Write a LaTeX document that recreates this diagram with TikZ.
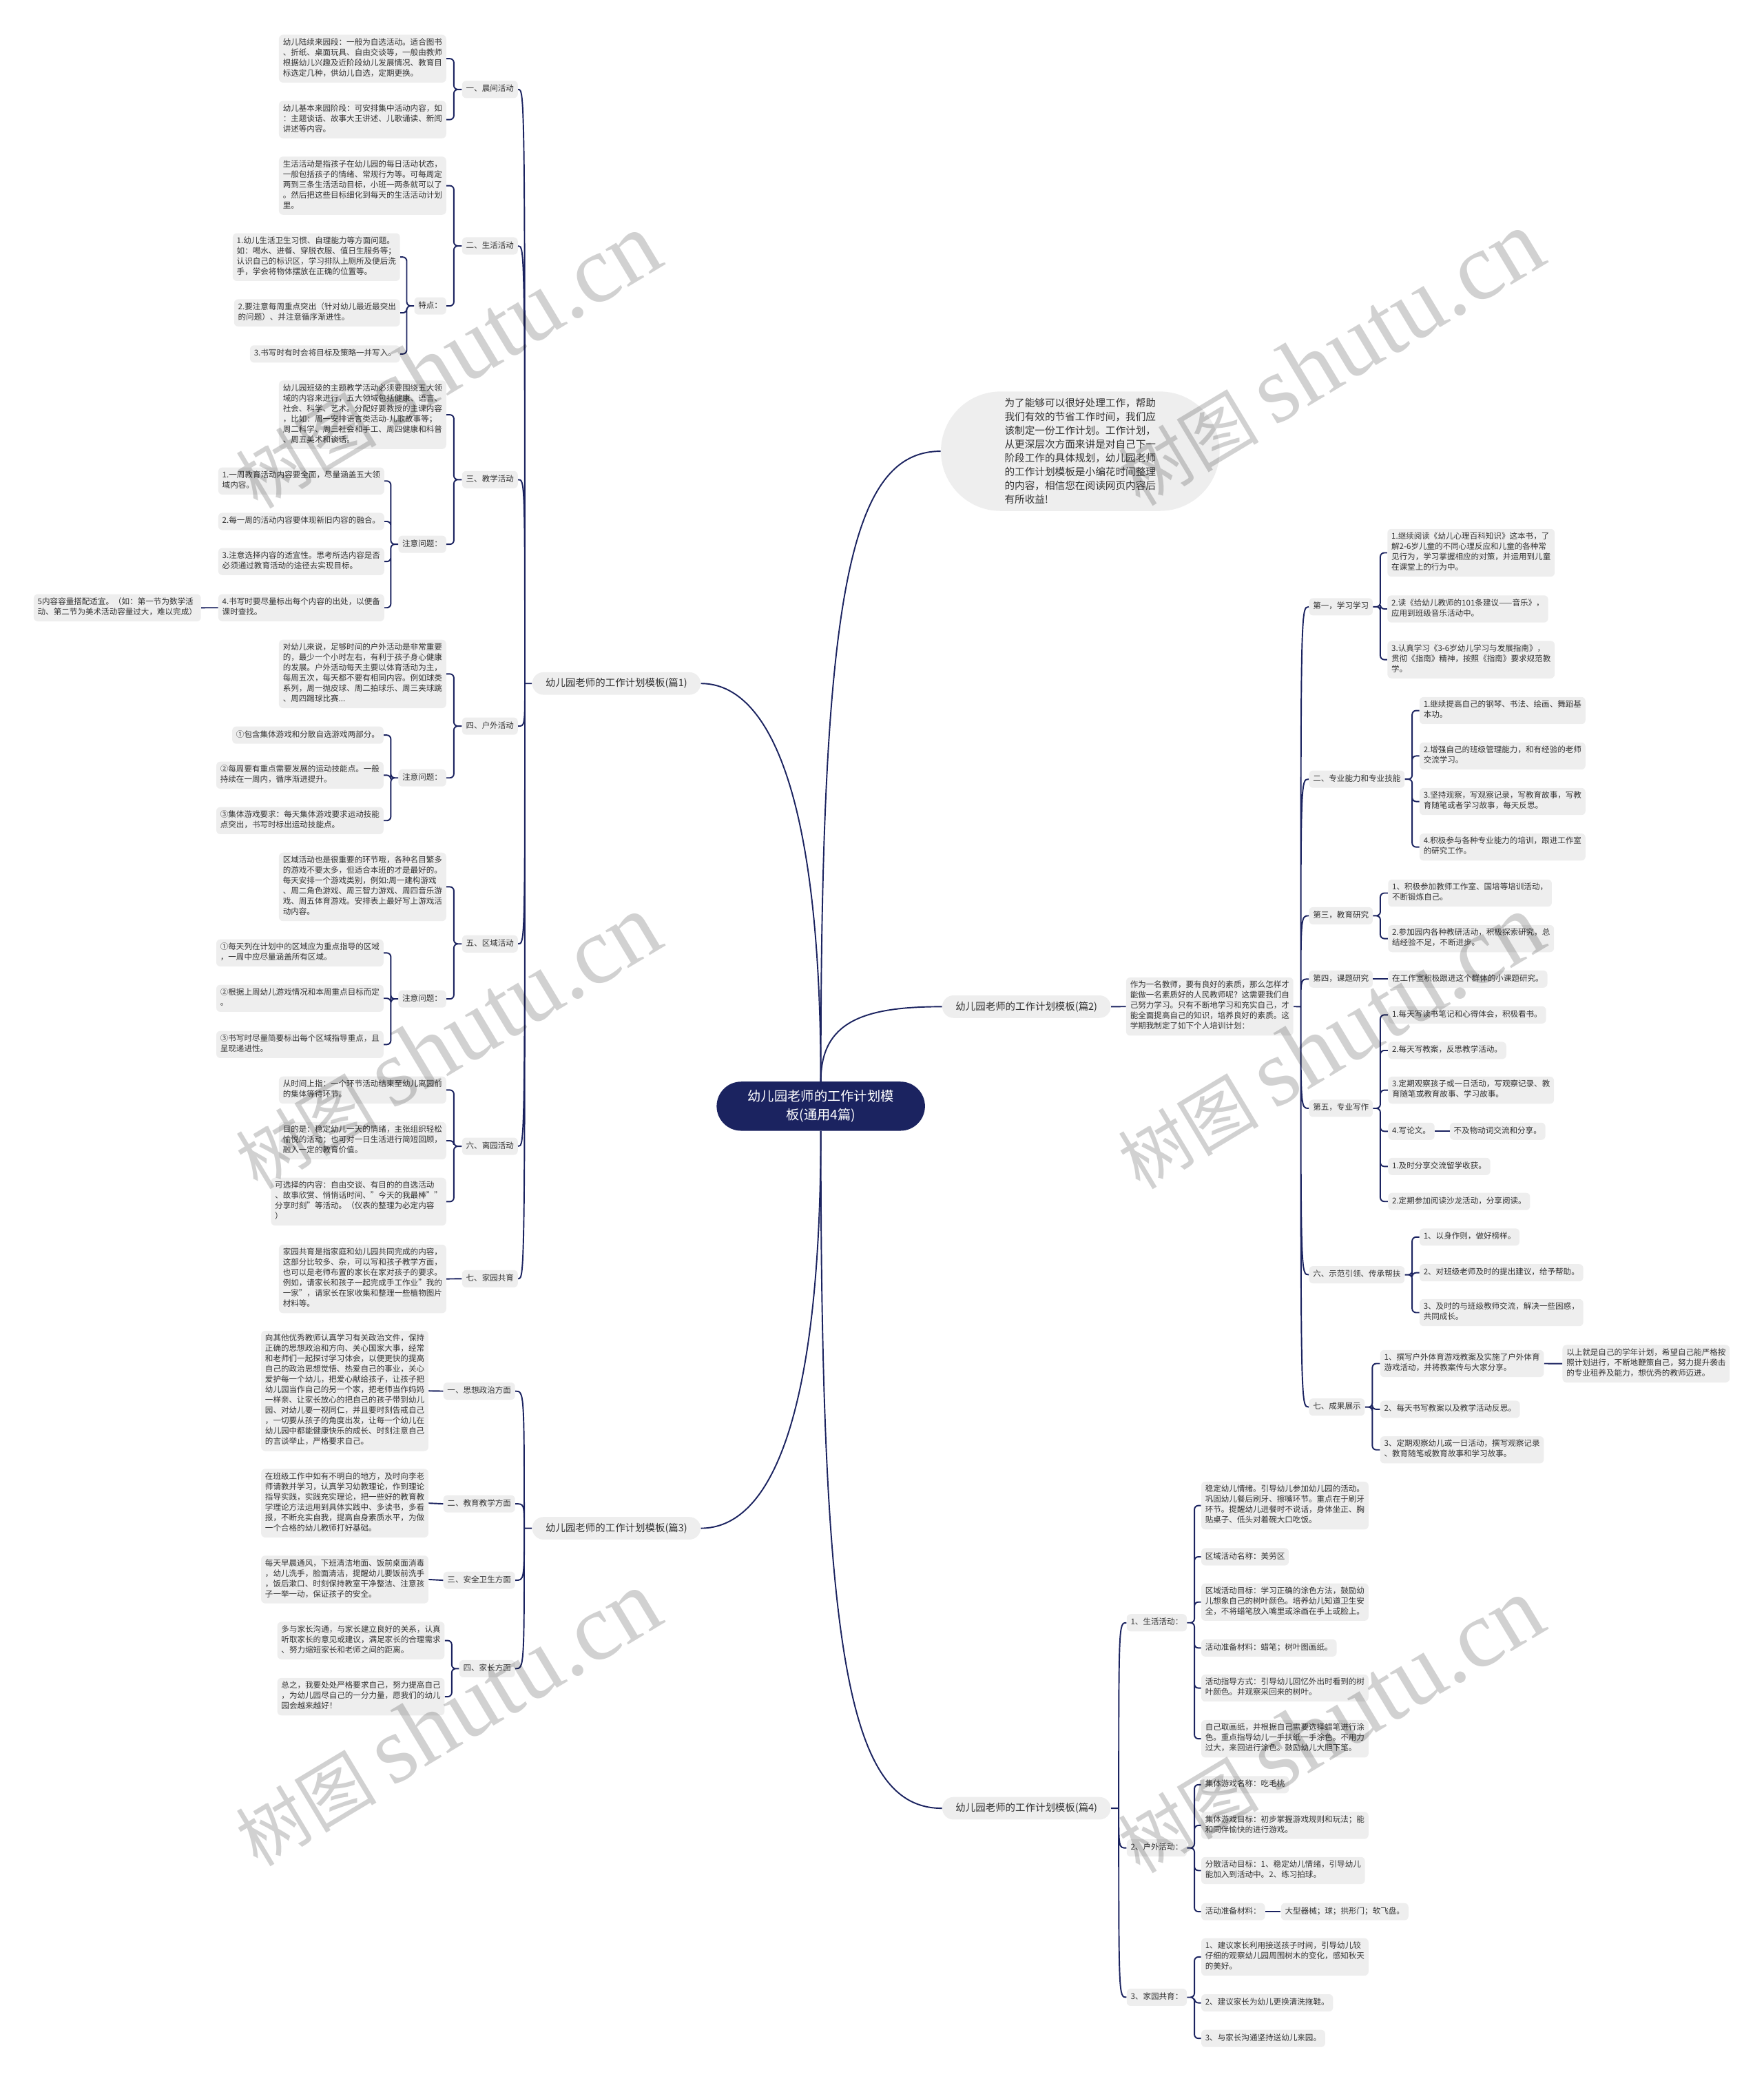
\documentclass[tikz,border=0pt]{standalone}
\usepackage{fontspec}
\setmainfont{Noto Sans CJK SC}
\newfontfamily\wmfont{Liberation Serif}
\definecolor{navy}{HTML}{1B2360}
\definecolor{boxgray}{HTML}{EEEEEE}
\definecolor{ink}{HTML}{333333}

\begin{document}
\begin{tikzpicture}[x=1pt,y=-1pt,
  link/.style={draw=navy,line width=1},
  brace/.style={link,rounded corners=3},
  leaf/.style={fill=boxgray,rounded corners=3,inner xsep=3,inner ysep=2.6,align=left,text=ink,
    font=\fontsize{6}{7.8}\selectfont,execute at begin node=\strut,execute at end node=\strut},
  lleaf/.style={leaf,anchor=north east},
  rleaf/.style={leaf,anchor=north west},
  topic/.style={fill=boxgray,rounded corners=8.5,minimum width=127,minimum height=17,inner sep=0,
    text=ink,font=\fontsize{7.5}{9}\selectfont},
  wm/.style={text=black,text opacity=0.18,rotate=31,inner sep=0}]
\useasboundingbox (0,0) rectangle (1329,1568);

% root and the four templates
\node[fill=navy,text=white,rounded corners=18.5,minimum width=157,minimum height=37,align=center,
  font=\fontsize{10}{14}\selectfont] (root) at (618.5,833.5) {幼儿园老师的工作计划模\\板(通用4篇)};
\node[fill=boxgray,rounded corners=45,minimum width=210,minimum height=90,align=left,text=ink,
  font=\fontsize{7.6}{10.4}\selectfont] (intro) at (814,340)
  {为了能够可以很好处理工作，帮助\\我们有效的节省工作时间，我们应\\该制定一份工作计划。工作计划，\\从更深层次方面来讲是对自己下一\\阶段工作的具体规划，幼儿园老师\\的工作计划模板是小编花时间整理\\的内容，相信您在阅读网页内容后\\有所收益!};
\node[topic] (p1) at (464.5,515) {幼儿园老师的工作计划模板(篇1)};
\node[topic] (p2) at (773.5,758.5) {幼儿园老师的工作计划模板(篇2)};
\node[topic] (p3) at (464.5,1151.5) {幼儿园老师的工作计划模板(篇3)};
\node[topic] (p4) at (773.5,1362.5) {幼儿园老师的工作计划模板(篇4)};

% part 1
\node[lleaf] (a1) at (390.4,60.7) {一、晨间活动};
\node[lleaf] (a2) at (390.4,178.6) {二、生活活动};
\node[lleaf] (a3) at (390.4,354.7) {三、教学活动};
\node[lleaf] (a4) at (390.4,540.4) {四、户外活动};
\node[lleaf] (a5) at (390.4,704.5) {五、区域活动};
\node[lleaf] (a6) at (390.4,857) {六、离园活动};
\node[lleaf] (a7) at (390.4,956.8) {七、家园共育};
\node[lleaf] (a1x) at (336.4,26) {幼儿陆续来园段：一般为自选活动。适合图书\\、折纸、桌面玩具、自由交谈等，一般由教师\\根据幼儿兴趣及近阶段幼儿发展情况、教育目\\标选定几种，供幼儿自选，定期更换。};
\node[lleaf] (a1y) at (336.4,75.8) {幼儿基本来园阶段：可安排集中活动内容，如\\：主题谈话、故事大王讲述、儿歌诵读、新闻\\讲述等内容。};
\node[lleaf] (a2x) at (336.4,117.8) {生活活动是指孩子在幼儿园的每日活动状态，\\一般包括孩子的情绪、常规行为等。可每周定\\两到三条生活活动目标，小班一两条就可以了\\。然后把这些目标细化到每天的生活活动计划\\里。};
\node[lleaf] (a2t) at (336.4,223.8) {特点：};
\node[lleaf] (t1) at (301.6,175.5) {1.幼儿生活卫生习惯、自理能力等方面问题。\\如：喝水、进餐、穿脱衣服、值日生服务等；\\认识自己的标识区，学习排队上厕所及便后洗\\手，学会将物体摆放在正确的位置等。};
\node[lleaf] (t2) at (301.6,225.3) {2.要注意每周重点突出（针对幼儿最近最突出\\的问题）、并注意循序渐进性。};
\node[lleaf] (t3) at (301.6,260) {3.书写时有时会将目标及策略一并写入。};
\node[lleaf] (a3x) at (336.4,286.5) {幼儿园班级的主题教学活动必须要围绕五大领\\域的内容来进行，五大领域包括健康、语言、\\社会、科学、艺术。分配好要教授的主课内容\\，比如：周一安排语言类活动-儿歌故事等；\\周二科学、周三社会和手工、周四健康和科普\\、周五美术和谈话。};
\node[lleaf] (a3n) at (336.4,403.4) {注意问题：};
\node[lleaf] (n1) at (289.7,352) {1.一周教育活动内容要全面，尽量涵盖五大领\\域内容。};
\node[lleaf] (n2) at (289.7,386.2) {2.每一周的活动内容要体现新旧内容的融合。};
\node[lleaf] (n3) at (289.7,412.7) {3.注意选择内容的适宜性。思考所选内容是否\\必须通过教育活动的途径去实现目标。};
\node[lleaf] (n4) at (289.7,447.5) {4.书写时要尽量标出每个内容的出处，以便备\\课时查找。};
\node[lleaf] (n4x) at (151.6,447.5) {5内容容量搭配适宜。（如：第一节为数学活\\动、第二节为美术活动容量过大，难以完成）};
\node[lleaf] (a4x) at (336.4,481.8) {对幼儿来说，足够时间的户外活动是非常重要\\的，最少一个小时左右，有利于孩子身心健康\\的发展。户外活动每天主要以体育活动为主，\\每周五次，每天都不要有相同内容。例如球类\\系列，周一抛皮球、周二拍球乐、周三夹球跳\\、周四踢球比赛...};
\node[lleaf] (a4n) at (336.4,579.4) {注意问题：};
\node[lleaf] (o1) at (289.2,547.2) {①包含集体游戏和分散自选游戏两部分。};
\node[lleaf] (o2) at (289.2,573.7) {②每周要有重点需要发展的运动技能点。一般\\持续在一周内，循序渐进提升。};
\node[lleaf] (o3) at (289.2,607.9) {③集体游戏要求：每天集体游戏要求运动技能\\点突出，书写时标出运动技能点。};
\node[lleaf] (a5x) at (336.4,642.2) {区域活动也是很重要的环节哦，各种名目繁多\\的游戏不要太多，但适合本班的才是最好的。\\每天安排一个游戏类别，例如:周一建构游戏\\、周二角色游戏、周三智力游戏、周四音乐游\\戏、周五体育游戏。安排表上最好写上游戏活\\动内容。};
\node[lleaf] (a5n) at (336.4,746) {注意问题：};
\node[lleaf] (r1) at (289.2,707.6) {①每天列在计划中的区域应为重点指导的区域\\，一周中应尽量涵盖所有区域。};
\node[lleaf] (r2) at (289.2,741.8) {②根据上周幼儿游戏情况和本周重点目标而定\\。};
\node[lleaf] (r3) at (289.2,776.6) {③书写时尽量简要标出每个区域指导重点，且\\呈现递进性。};
\node[lleaf] (s1) at (336.4,810.9) {从时间上指：一个环节活动结束至幼儿离园前\\的集体等待环节。};
\node[lleaf] (s2) at (336.4,845.2) {目的是：稳定幼儿一天的情绪，主张组织轻松\\愉悦的活动；也可对一日生活进行简短回顾，\\融入一定的教育价值。};
\node[lleaf] (s3) at (336.4,887.2) {可选择的内容：自由交谈、有目的的自选活动\\、故事欣赏、悄悄话时间、"今天的我最棒""\\分享时刻"等活动。（仪表的整理为必定内容\\）};
\node[lleaf] (w1) at (336.4,937.6) {家园共育是指家庭和幼儿园共同完成的内容，\\这部分比较多、杂，可以写和孩子教学方面，\\也可以是老师布置的家长在家对孩子的要求。\\例如，请家长和孩子一起完成手工作业"我的\\一家"，请家长在家收集和整理一些植物图片\\材料等。};

% part 3
\node[lleaf] (b1) at (388.3,1041.5) {一、思想政治方面};
\node[lleaf] (b2) at (388.3,1126.4) {二、教育教学方面};
\node[lleaf] (b3) at (388.3,1184) {三、安全卫生方面};
\node[lleaf] (b4) at (388.3,1250.6) {四、家长方面};
\node[lleaf] (b1x) at (323,1002.5) {向其他优秀教师认真学习有关政治文件，保持\\正确的思想政治和方向、关心国家大事，经常\\和老师们一起探讨学习体会，以便更快的提高\\自己的政治思想觉悟、热爱自己的事业，关心\\爱护每一个幼儿，把爱心献给孩子，让孩子把\\幼儿园当作自己的另一个家，把老师当作妈妈\\一样亲、让家长放心的把自己的孩子带到幼儿\\园、对幼儿要一视同仁，并且要时刻告戒自己\\，一切要从孩子的角度出发，让每一个幼儿在\\幼儿园中都能健康快乐的成长、时刻注意自己\\的言谈举止，严格要求自己。};
\node[lleaf] (b2x) at (323,1106.6) {在班级工作中如有不明白的地方，及时向李老\\师请教并学习，认真学习幼教理论，作到理论\\指导实践，实践充实理论，把一些好的教育教\\学理论方法运用到具体实践中、多读书，多看\\报，不断充实自我，提高自身素质水平，为做\\一个合格的幼儿教师打好基础。};
\node[lleaf] (b3x) at (323,1171.9) {每天早晨通风，下班清洁地面、饭前桌面消毒\\，幼儿洗手，脸面清洁，提醒幼儿要饭前洗手\\，饭后漱口、时刻保持教室干净整洁、注意孩\\子一举一动，保证孩子的安全。};
\node[lleaf] (b4x) at (335.2,1221.8) {多与家长沟通，与家长建立良好的关系，认真\\听取家长的意见或建议，满足家长的合理需求\\、努力缩短家长和老师之间的距离。};
\node[lleaf] (b4y) at (335.2,1264.1) {总之，我要处处严格要求自己，努力提高自己\\，为幼儿园尽自己的一分力量，愿我们的幼儿\\园会越来越好！};

% part 2
\node[rleaf] (q0) at (848.4,736.3) {作为一名教师，要有良好的素质，那么怎样才\\能做一名素质好的人民教师呢？这需要我们自\\己努力学习。只有不断地学习和充实自己，才\\能全面提高自己的知识，培养良好的素质。这\\学期我制定了如下个人培训计划：};
\node[rleaf] (c1) at (986.2,450.5) {第一，学习学习};
\node[rleaf] (c2) at (986.2,580.4) {二、专业能力和专业技能};
\node[rleaf] (c3) at (986.2,683.3) {第三，教育研究};
\node[rleaf] (c4) at (986.2,731) {第四，课题研究};
\node[rleaf] (c5) at (986.2,828.4) {第五，专业写作};
\node[rleaf] (c6) at (986.2,953.8) {六、示范引领、传承帮扶};
\node[rleaf] (c7) at (986.2,1053.5) {七、成果展示};
\node[rleaf] (c1a) at (1045.3,398.3) {1.继续阅读《幼儿心理百科知识》这本书，了\\解2-6岁儿童的不同心理反应和儿童的各种常\\见行为，学习掌握相应的对策，并运用到儿童\\在课堂上的行为中。};
\node[rleaf] (c1b) at (1045.3,448.4) {2.读《给幼儿教师的101条建议——音乐》，\\应用到班级音乐活动中。};
\node[rleaf] (c1c) at (1045.3,482.7) {3.认真学习《3-6岁幼儿学习与发展指南》，\\贯彻《指南》精神，按照《指南》要求规范教\\学。};
\node[rleaf] (c2a) at (1069.5,525) {1.继续提高自己的钢琴、书法、绘画、舞蹈基\\本功。};
\node[rleaf] (c2b) at (1069.5,559.2) {2.增强自己的班级管理能力，和有经验的老师\\交流学习。};
\node[rleaf] (c2c) at (1069.5,593.5) {3.坚持观察，写观察记录，写教育故事，写教\\育随笔或者学习故事，每天反思。};
\node[rleaf] (c2d) at (1069.5,627.8) {4.积极参与各种专业能力的培训，跟进工作室\\的研究工作。};
\node[rleaf] (c3a) at (1045.8,662.5) {1、积极参加教师工作室、国培等培训活动，\\不断锻炼自己。};
\node[rleaf] (c3b) at (1045.8,696.8) {2.参加园内各种教研活动，积极探索研究，总\\结经验不足，不断进步。};
\node[rleaf] (c4a) at (1045.8,731) {在工作室积极跟进这个群体的小课题研究。};
\node[rleaf] (c5a) at (1045.8,758) {1.每天写读书笔记和心得体会，积极看书。};
\node[rleaf] (c5b) at (1045.8,784.8) {2.每天写教案，反思教学活动。};
\node[rleaf] (c5c) at (1045.8,811) {3.定期观察孩子或一日活动，写观察记录、教\\育随笔或教育故事、学习故事。};
\node[rleaf] (c5d) at (1045.8,845.7) {4.写论文。};
\node[rleaf] (c5e) at (1092.3,845.7) {不及物动词交流和分享。};
\node[rleaf] (c5f) at (1045.8,872.2) {1.及时分享交流留学收获。};
\node[rleaf] (c5g) at (1045.8,898.6) {2.定期参加阅读沙龙活动，分享阅读。};
\node[rleaf] (c6a) at (1069.5,925.4) {1、以身作则，做好榜样。};
\node[rleaf] (c6b) at (1069.5,952.3) {2、对班级老师及时的提出建议，给予帮助。};
\node[rleaf] (c6c) at (1069.5,978.6) {3、及时的与班级教师交流，解决一些困惑，\\共同成长。};
\node[rleaf] (c7a) at (1039.8,1017) {1、撰写户外体育游戏教案及实施了户外体育\\游戏活动，并将教案传与大家分享。};
\node[rleaf] (c7x) at (1177.2,1013.2) {以上就是自己的学年计划，希望自己能严格按\\照计划进行，不断地鞭策自己，努力提升袭击\\的专业租养及能力，想优秀的教师迈进。};
\node[rleaf] (c7b) at (1039.8,1055.2) {2、每天书写教案以及教学活动反思。};
\node[rleaf] (c7c) at (1039.8,1082) {3、定期观察幼儿或一日活动，撰写观察记录\\、教育随笔或教育故事和学习故事。};

% part 4
\node[rleaf] (d1) at (848.8,1216) {1、生活活动：};
\node[rleaf] (d2) at (848.8,1385.7) {2、户外活动：};
\node[rleaf] (d3) at (848.8,1498.2) {3、家园共育：};
\node[rleaf] (d1a) at (905,1116.2) {稳定幼儿情绪。引导幼儿参加幼儿园的活动。\\巩固幼儿餐后刷牙、擦嘴环节。重点在于刷牙\\环节。提醒幼儿进餐时不说话，身体坐正、胸\\贴桌子、低头对着碗大口吃饭。};
\node[rleaf] (d1b) at (905,1166.3) {区域活动名称：美劳区};
\node[rleaf] (d1c) at (905,1192.8) {区域活动目标：学习正确的涂色方法，鼓励幼\\儿想象自己的树叶颜色。培养幼儿知道卫生安\\全，不将蜡笔放入嘴里或涂画在手上或脸上。};
\node[rleaf] (d1d) at (905,1235) {活动准备材料：蜡笔；树叶图画纸。};
\node[rleaf] (d1e) at (905,1261.5) {活动指导方式：引导幼儿回忆外出时看到的树\\叶颜色。并观察采回来的树叶。};
\node[rleaf] (d1f) at (905,1295.8) {自己取画纸，并根据自己需要选择蜡笔进行涂\\色。重点指导幼儿一手扶纸一手涂色。不用力\\过大，来回进行涂色。鼓励幼儿大胆下笔。};
\node[rleaf] (d2a) at (905,1338) {集体游戏名称：吃毛桃};
\node[rleaf] (d2b) at (905,1365) {集体游戏目标：初步掌握游戏规则和玩法；能\\和同伴愉快的进行游戏。};
\node[rleaf] (d2c) at (905,1399) {分散活动目标：1、稳定幼儿情绪，引导幼儿\\能加入到活动中。2、练习拍球。};
\node[rleaf] (d2d) at (905,1433.7) {活动准备材料：};
\node[rleaf] (d2e) at (965.1,1433.7) {大型器械；球；拱形门；软飞盘。};
\node[rleaf] (d3a) at (905,1460.2) {1、建议家长利用接送孩子时间，引导幼儿较\\仔细的观察幼儿园周围树木的变化，感知秋天\\的美好。};
\node[rleaf] (d3b) at (905,1502.4) {2、建议家长为幼儿更换清洗拖鞋。};
\node[rleaf] (d3c) at (905,1529.2) {3、与家长沟通坚持送幼儿来园。};

% connectors
\draw[link] (root.north) .. controls (618.5,450) and (640,340) .. (intro.west);
\draw[link] (root.north) .. controls (618.5,600) and (580,515) .. (p1.east);
\draw[link] (root.north) .. controls (618.5,770) and (650,758.5) .. (p2.west);
\draw[link] (root.south) .. controls (618.5,1070) and (580,1151.5) .. (p3.east);
\draw[link] (root.south) .. controls (618.5,1250) and (640,1362.5) .. (p4.west);

\coordinate (j1) at (395.5,515);
\draw[link] (p1.west) -- (j1)
  (j1) .. controls (j1 |- a1.east) .. (a1.east)
  (j1) .. controls (j1 |- a2.east) .. (a2.east)
  (j1) .. controls (j1 |- a3.east) .. (a3.east)
  (j1) .. controls (j1 |- a4.east) .. (a4.east)
  (j1) .. controls (j1 |- a5.east) .. (a5.east)
  (j1) .. controls (j1 |- a6.east) .. (a6.east)
  (j1) .. controls (j1 |- a7.east) .. (a7.east);
\draw[brace] (a1.west) -- ++(-6,0) |- (a1x.east) (a1.west) -- ++(-6,0) |- (a1y.east);
\draw[brace] (a2.west) -- ++(-6,0) |- (a2x.east) (a2.west) -- ++(-6,0) |- (a2t.east);
\draw[brace] (a2t.west) -- ++(-5.5,0) |- (t1.east) (a2t.west) -- ++(-5.5,0) |- (t2.east)
  (a2t.west) -- ++(-5.5,0) |- (t3.east);
\draw[brace] (a3.west) -- ++(-6,0) |- (a3x.east) (a3.west) -- ++(-6,0) |- (a3n.east);
\draw[brace] (a3n.west) -- ++(-5.5,0) |- (n1.east) (a3n.west) -- ++(-5.5,0) |- (n2.east)
  (a3n.west) -- ++(-5.5,0) |- (n3.east) (a3n.west) -- ++(-5.5,0) |- (n4.east);
\draw[link] (n4.west) -- (n4x.east);
\draw[brace] (a4.west) -- ++(-6,0) |- (a4x.east) (a4.west) -- ++(-6,0) |- (a4n.east);
\draw[brace] (a4n.west) -- ++(-5.5,0) |- (o1.east) (a4n.west) -- ++(-5.5,0) |- (o2.east)
  (a4n.west) -- ++(-5.5,0) |- (o3.east);
\draw[brace] (a5.west) -- ++(-6,0) |- (a5x.east) (a5.west) -- ++(-6,0) |- (a5n.east);
\draw[brace] (a5n.west) -- ++(-5.5,0) |- (r1.east) (a5n.west) -- ++(-5.5,0) |- (r2.east)
  (a5n.west) -- ++(-5.5,0) |- (r3.east);
\draw[brace] (a6.west) -- ++(-6,0) |- (s1.east) (a6.west) -- ++(-6,0) |- (s2.east)
  (a6.west) -- ++(-6,0) |- (s3.east);
\draw[link] (a7.west) -- (w1.east);

\coordinate (j3) at (395,1151.5);
\draw[link] (p3.west) -- (j3)
  (j3) .. controls (j3 |- b1.east) .. (b1.east)
  (j3) .. controls (j3 |- b2.east) .. (b2.east)
  (j3) .. controls (j3 |- b3.east) .. (b3.east)
  (j3) .. controls (j3 |- b4.east) .. (b4.east);
\draw[link] (b1.west) -- (b1x.east) (b2.west) -- (b2x.east) (b3.west) -- (b3x.east);
\draw[brace] (b4.west) -- ++(-5.5,0) |- (b4x.east) (b4.west) -- ++(-5.5,0) |- (b4y.east);

\draw[link] (p2.east) -- (q0.west);
\coordinate (j2) at (980.2,758.5);
\draw[link] (q0.east) -- (j2)
  (j2) .. controls (j2 |- c1.west) .. (c1.west)
  (j2) .. controls (j2 |- c2.west) .. (c2.west)
  (j2) .. controls (j2 |- c3.west) .. (c3.west)
  (j2) .. controls (j2 |- c4.west) .. (c4.west)
  (j2) .. controls (j2 |- c5.west) .. (c5.west)
  (j2) .. controls (j2 |- c6.west) .. (c6.west)
  (j2) .. controls (j2 |- c7.west) .. (c7.west);
\draw[brace] (c1.east) -- ++(5.5,0) |- (c1a.west) (c1.east) -- ++(5.5,0) |- (c1b.west)
  (c1.east) -- ++(5.5,0) |- (c1c.west);
\draw[brace] (c2.east) -- ++(5.5,0) |- (c2a.west) (c2.east) -- ++(5.5,0) |- (c2b.west)
  (c2.east) -- ++(5.5,0) |- (c2c.west) (c2.east) -- ++(5.5,0) |- (c2d.west);
\draw[brace] (c3.east) -- ++(5.5,0) |- (c3a.west) (c3.east) -- ++(5.5,0) |- (c3b.west);
\draw[link] (c4.east) -- (c4a.west);
\draw[brace] (c5.east) -- ++(5.5,0) |- (c5a.west) (c5.east) -- ++(5.5,0) |- (c5b.west)
  (c5.east) -- ++(5.5,0) |- (c5c.west) (c5.east) -- ++(5.5,0) |- (c5d.west)
  (c5.east) -- ++(5.5,0) |- (c5f.west) (c5.east) -- ++(5.5,0) |- (c5g.west);
\draw[link] (c5d.east) -- (c5e.west);
\draw[brace] (c6.east) -- ++(5.5,0) |- (c6a.west) (c6.east) -- ++(5.5,0) |- (c6b.west)
  (c6.east) -- ++(5.5,0) |- (c6c.west);
\draw[brace] (c7.east) -- ++(5.5,0) |- (c7a.west) (c7.east) -- ++(5.5,0) |- (c7b.west)
  (c7.east) -- ++(5.5,0) |- (c7c.west);
\draw[link] (c7a.east) -- (c7x.west);

\coordinate (j4) at (843,1362.5);
\draw[link] (p4.east) -- (j4)
  (j4) .. controls (j4 |- d1.west) .. (d1.west)
  (j4) .. controls (j4 |- d2.west) .. (d2.west)
  (j4) .. controls (j4 |- d3.west) .. (d3.west);
\draw[brace] (d1.east) -- ++(5.5,0) |- (d1a.west) (d1.east) -- ++(5.5,0) |- (d1b.west)
  (d1.east) -- ++(5.5,0) |- (d1c.west) (d1.east) -- ++(5.5,0) |- (d1d.west)
  (d1.east) -- ++(5.5,0) |- (d1e.west) (d1.east) -- ++(5.5,0) |- (d1f.west);
\draw[brace] (d2.east) -- ++(5.5,0) |- (d2a.west) (d2.east) -- ++(5.5,0) |- (d2b.west)
  (d2.east) -- ++(5.5,0) |- (d2c.west) (d2.east) -- ++(5.5,0) |- (d2d.west);
\draw[link] (d2d.east) -- (d2e.west);
\draw[brace] (d3.east) -- ++(5.5,0) |- (d3a.west) (d3.east) -- ++(5.5,0) |- (d3b.west)
  (d3.east) -- ++(5.5,0) |- (d3c.west);

% watermarks
\node[wm] (wm1) at (337,272) {{\fontsize{53}{53}\selectfont 树图}\hspace{12pt}{\wmfont\fontsize{72}{72}\selectfont shutu.cn}};
\node[wm] (wm2) at (1002,270) {{\fontsize{53}{53}\selectfont 树图}\hspace{12pt}{\wmfont\fontsize{72}{72}\selectfont shutu.cn}};
\node[wm] (wm3) at (337,785) {{\fontsize{53}{53}\selectfont 树图}\hspace{12pt}{\wmfont\fontsize{72}{72}\selectfont shutu.cn}};
\node[wm] (wm4) at (1002,785) {{\fontsize{53}{53}\selectfont 树图}\hspace{12pt}{\wmfont\fontsize{72}{72}\selectfont shutu.cn}};
\node[wm] (wm5) at (337,1295) {{\fontsize{53}{53}\selectfont 树图}\hspace{12pt}{\wmfont\fontsize{72}{72}\selectfont shutu.cn}};
\node[wm] (wm6) at (1002,1300) {{\fontsize{53}{53}\selectfont 树图}\hspace{12pt}{\wmfont\fontsize{72}{72}\selectfont shutu.cn}};
\end{tikzpicture}
\end{document}
